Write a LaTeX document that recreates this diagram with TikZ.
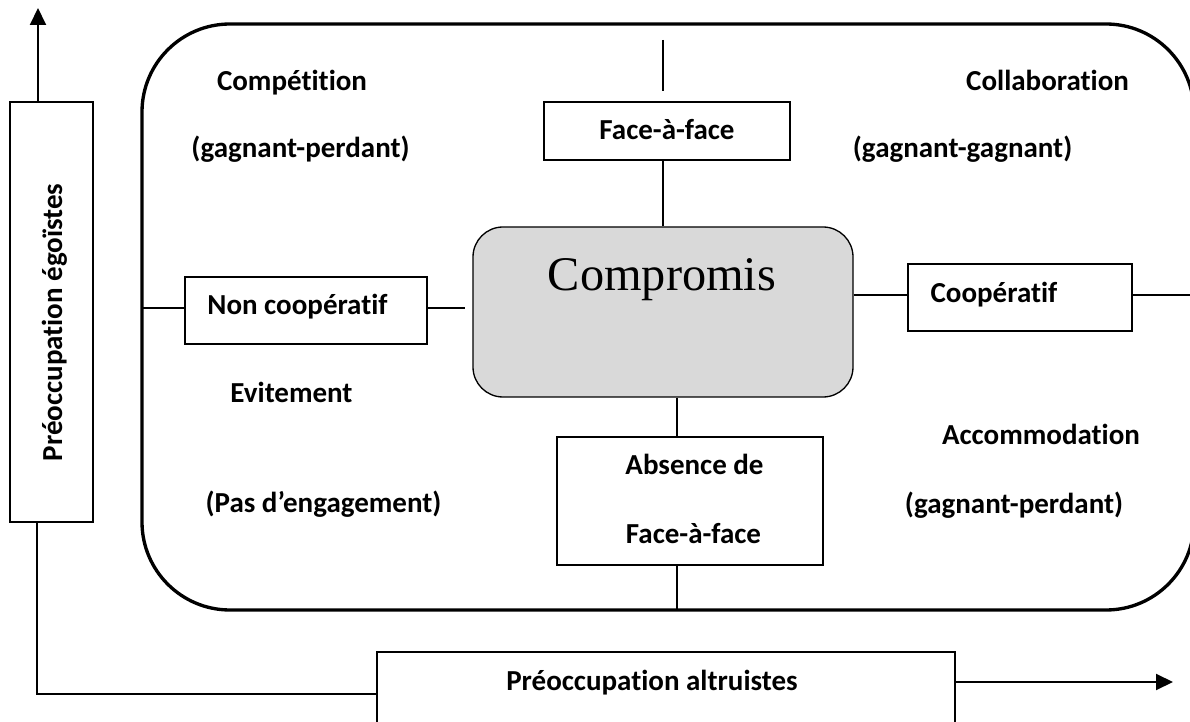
\documentclass[tikz,border=0pt]{standalone}
\usepackage{fontspec}
\setmainfont{Carlito}[Ligatures=CommonOff]
\newfontfamily\serifcomp{Liberation Serif}
\usetikzlibrary{arrows.meta}
\definecolor{compgray}{HTML}{D9D9D9}
\begin{document}
\begin{tikzpicture}[x=0.02cm,y=-0.02cm,
  lbl/.style={font=\fontsize{16.5}{20}\selectfont\bfseries, inner sep=0pt, anchor=base},
  boxn/.style={draw, line width=0.75pt, inner sep=0pt},
  thinline/.style={line width=0.7pt},
  arr/.style={line width=1.1pt, -{Triangle[length=0.34cm,width=0.32cm]}}]
\useasboundingbox (0,0) rectangle (1190,722);
% big rounded frame
\draw[line width=1.9pt, rounded corners=1.76cm] (142,24) rectangle (1194,610);
% boxes
\node[boxn, minimum width=83*0.02cm, minimum height=420*0.02cm] (ego) at (51.5,312) {};
\node[boxn, minimum width=246*0.02cm, minimum height=58*0.02cm] (face) at (667,131) {};
\node[draw, line width=0.75pt, fill=compgray, rounded corners=0.6cm, inner sep=0pt,
      minimum width=380*0.02cm, minimum height=170*0.02cm] (comp) at (663,312) {};
\node[boxn, minimum width=242*0.02cm, minimum height=67*0.02cm] (nonc) at (306,310.5) {};
\node[boxn, minimum width=224*0.02cm, minimum height=67*0.02cm] (coop) at (1020,297.5) {};
\node[boxn, minimum width=266*0.02cm, minimum height=128*0.02cm] (abs) at (690,501) {};
\node[boxn, minimum width=578*0.02cm, minimum height=100*0.02cm] (alt) at (666,702) {};
% free end coordinates
\coordinate (uptip) at (38,8);
\coordinate (egoout) at (37,694);
\coordinate (toptop) at (663,40);
\coordinate (topbot) at (663,91);
\coordinate (leftedge) at (142,308);
\coordinate (ncend) at (465,308);
\coordinate (rightedge) at (1194,295);
\coordinate (vx) at (677,0);
\coordinate (bottomedge) at (677,610);
\coordinate (alttip) at (1173,682);
% texts
\node[lbl] (t1) at (292,91) {Compétition};
\node[lbl] (t2) at (300.5,158) {(gagnant-perdant)};
\node[lbl] (t3) at (1047.5,91) {Collaboration};
\node[lbl] (t4) at (962.5,158) {(gagnant-gagnant)};
\node[lbl] (t5) at (291.5,403) {Evitement};
\node[lbl] (t6) at (323.5,513) {(Pas d’engagement)};
\node[lbl] (t7) at (1041,445) {Accommodation};
\node[lbl] (t8) at (1014,514) {(gagnant-perdant)};
\node[lbl] (tface) at (667,140) {Face-à-face};
\node[lbl] (tabs1) at (694.5,475) {Absence de};
\node[lbl] (tabs2) at (693.5,543) {Face-à-face};
\node[lbl] (tnonc) at (297.5,315) {Non coopératif};
\node[lbl] (tcoop) at (994,303) {Coopératif};
\node[lbl] (talt) at (652,690) {Préoccupation altruistes};
\node[lbl, rotate=90] (tego) at (62,322.5) {Préoccupation égoïstes};
\node[inner sep=0pt, anchor=base, font=\serifcomp\fontsize{27.5}{30}\selectfont] (tcomp) at (662,291) {Compromis};
% connectors
\draw[arr] (ego.north -| uptip) -- (uptip);
\draw[thinline] (ego.south -| egoout) -- (egoout) -- (egoout -| alt.west);
\draw[thinline] (toptop) -- (topbot);
\draw[thinline] (comp.north) -- (comp.north |- face.south);
\draw[thinline] (leftedge) -- (leftedge -| nonc.west);
\draw[thinline] (ncend -| nonc.east) -- (ncend);
\draw[thinline] (rightedge -| comp.east) -- (rightedge -| coop.west);
\draw[thinline] (rightedge -| coop.east) -- (rightedge);
\draw[thinline] (comp.south -| vx) -- (abs.north -| vx);
\draw[thinline] (abs.south -| vx) -- (bottomedge);
\draw[arr] (alttip -| alt.east) -- (alttip);
\end{tikzpicture}
\end{document}
